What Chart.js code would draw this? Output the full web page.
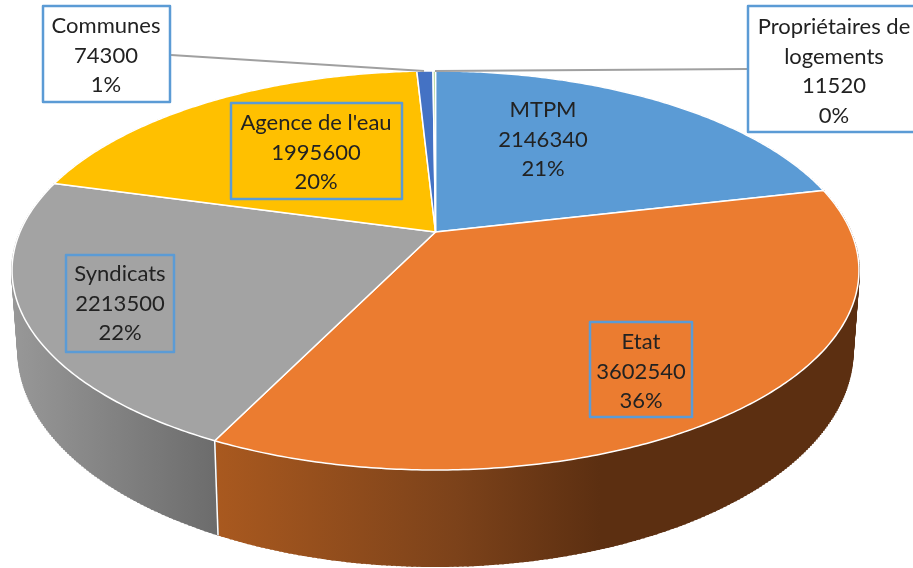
<!DOCTYPE html>
<html>
<head>
<meta charset="utf-8">
<style>
    html, body { margin: 0; padding: 0; background: #fff; overflow: hidden; }
    canvas { display: block; filter: blur(0.4px); }
</style>
<script src="https://cdn.jsdelivr.net/npm/chart.js@4"></script>
</head>
<body>
<canvas id="pieChart" width="913" height="568"></canvas>
<script>
const categories = ['MTPM', 'Etat', 'Syndicats', "Agence de l'eau", 'Communes', ['Propriétaires de', 'logements']];
const amounts = [2146340, 3602540, 2213500, 1995600, 74300, 11520];
const faceColors = ['#5B9BD5', '#EB7C30', '#A3A3A3', '#FFC000', '#4472C4', '#A9D18E'];

// side wall shading, [x, colour] left to right
const wallShades = [
    [[0, '#3a6a96'], [913, '#2f567b']],
    [[216, '#a9591f'], [456, '#7c421a'], [600, '#5c2f11'], [913, '#5c2f11']],
    [[12, '#989898'], [216, '#6c6c6c']],
    [[0, '#a67c00'], [913, '#a67c00']],
    [[0, '#2c4a80'], [913, '#2c4a80']],
    [[0, '#48702e'], [913, '#48702e']]
];

// where each data label sits: box is x, y, w, h (null = no frame), top is the first line's middle
const labelSpots = [
    { cx: 543, top: 110, box: null },
    { cx: 641, top: 342, box: [590, 322, 102, 95] },
    { cx: 120, top: 274, box: [66, 255, 108, 97] },
    { cx: 316, top: 123, box: [231, 103, 171, 96] },
    { cx: 106, top: 26, box: [43, 6, 127, 96], leader: [[171, 55], [424, 71]] },
    { cx: 834, top: 27, box: [748, 6, 180, 126], leader: [[747, 69], [435, 71]] }
];

// perspective of the tilted disc
const cam = { cx: 435.5, hubY: 232, spreadX: 415.5, spreadY: 147.3, tilt: -0.193, depth: 78.3, shrink: 0.985 };

function project(angle, low) {
    const u = Math.cos(angle);
    const v = Math.sin(angle);
    const w = 1 + cam.tilt * v;
    const k = low ? cam.shrink : 1;
    return {
        x: cam.cx + cam.spreadX * k * u / w,
        y: (cam.spreadY * v + cam.hubY + (low ? cam.depth : 0)) / w
    };
}

function rimPoints(start, end, low) {
    const steps = Math.max(2, Math.ceil((end - start) / 0.01));
    const pts = [];
    for (let i = 0; i <= steps; i++) {
        pts.push(project(start + (end - start) * i / steps, low));
    }
    return pts;
}

const tiltedPie = {
    id: 'tiltedPie',
    beforeDatasetDraw(chart, args) {
        const ctx = chart.ctx;
        const arcs = args.meta.data;

        // walls first, the top faces cover the back ones
        arcs.forEach((arc, i) => {
            const grad = ctx.createLinearGradient(0, 0, 913, 0);
            wallShades[i].forEach(s => grad.addColorStop(s[0] / 913, s[1]));
            const upper = rimPoints(arc.startAngle, arc.endAngle, false);
            const lower = rimPoints(arc.startAngle, arc.endAngle, true);
            ctx.beginPath();
            upper.concat(lower.slice().reverse()).forEach((p, n) => n ? ctx.lineTo(p.x, p.y) : ctx.moveTo(p.x, p.y));
            ctx.closePath();
            ctx.fillStyle = grad;
            ctx.fill();

            // the fill leaves the fold at the sides of the disc open, rule it in
            ctx.strokeStyle = grad;
            ctx.lineWidth = 2;
            upper.forEach((p, n) => {
                ctx.beginPath();
                ctx.moveTo(p.x, p.y);
                ctx.lineTo(lower[n].x, lower[n].y);
                ctx.stroke();
            });
        });

        // seam between the two visible walls
        arcs.forEach(arc => {
            if (Math.sin(arc.endAngle) > 0.5) {
                const a = project(arc.endAngle, false);
                const b = project(arc.endAngle, true);
                ctx.beginPath();
                ctx.moveTo(a.x, a.y);
                ctx.lineTo(b.x, b.y);
                ctx.strokeStyle = '#fff';
                ctx.lineWidth = 1.5;
                ctx.stroke();
            }
        });

        arcs.forEach((arc, i) => {
            ctx.beginPath();
            ctx.moveTo(cam.cx, cam.hubY);
            rimPoints(arc.startAngle, arc.endAngle, false).forEach(p => ctx.lineTo(p.x, p.y));
            ctx.closePath();
            ctx.fillStyle = faceColors[i];
            ctx.fill();
            ctx.strokeStyle = '#fff';
            ctx.lineWidth = 1.5;
            ctx.lineJoin = 'round';
            ctx.stroke();
        });
        return false;
    },
    afterDraw(chart) {
        const ctx = chart.ctx;
        const total = amounts.reduce((a, b) => a + b, 0);

        labelSpots.forEach((spot, i) => {
            if (spot.leader) {
                ctx.beginPath();
                ctx.moveTo(spot.leader[0][0], spot.leader[0][1]);
                ctx.lineTo(spot.leader[1][0], spot.leader[1][1]);
                ctx.strokeStyle = '#a0a0a0';
                ctx.lineWidth = 2;
                ctx.stroke();
                ctx.fillStyle = '#fff';
                ctx.fillRect(spot.box[0], spot.box[1], spot.box[2], spot.box[3]);
            }
            if (spot.box) {
                ctx.strokeStyle = '#5B9BD5';
                ctx.lineWidth = 2.5;
                ctx.strokeRect(spot.box[0], spot.box[1], spot.box[2], spot.box[3]);
            }

            const lines = [].concat(categories[i], String(amounts[i]), Math.round(amounts[i] / total * 100) + '%');
            ctx.font = '22px Lato';
            ctx.fillStyle = '#222';
            ctx.textAlign = 'center';
            ctx.textBaseline = 'middle';
            lines.forEach((line, n) => ctx.fillText(line, spot.cx, spot.top + n * 29.5));
        });
    }
};

new Chart(document.getElementById('pieChart').getContext('2d'), {
    type: 'pie',
    data: {
        labels: categories,
        datasets: [{ data: amounts, backgroundColor: faceColors }]
    },
    options: {
        responsive: false,
        animation: false,
        events: [],
        plugins: {
            legend: { display: false },
            tooltip: { enabled: false }
        }
    },
    plugins: [tiltedPie]
});
</script>
</body>
</html>
